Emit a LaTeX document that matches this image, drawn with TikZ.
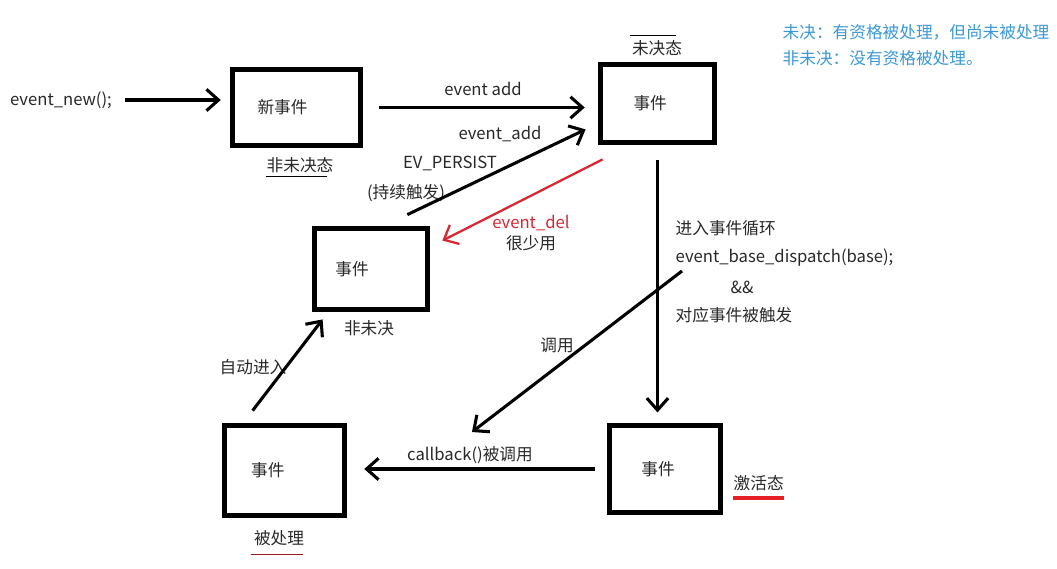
\documentclass[tikz,border=0pt]{standalone}
\usepackage{fontspec}
\setmainfont{Noto Sans CJK SC}
\usetikzlibrary{arrows.meta,positioning,calc}
\definecolor{NoteBlue}{RGB}{58,152,214}
\definecolor{DelRed}{RGB}{214,40,50}
\definecolor{MarkRed}{RGB}{230,30,40}
\definecolor{InkGray}{RGB}{40,40,40}

\begin{document}
\begin{tikzpicture}[x=.75pt,y=-.75pt,>={Straight Barb[length=9pt,width=16pt]},
  font=\fontsize{12.5}{15}\selectfont,text=InkGray,
  state/.style n args={2}{draw,line width=3.6pt,inner sep=0pt,minimum width=#1,minimum height=#2},
  text left/.style={execute at begin node={\hspace*{-#1}}},
  flow/.style={->,line width=2.3pt}]
  \useasboundingbox (0,0) rectangle (1057,568);
  \node (newcall) at (61,100) {event\_new();};
  \node[state={96pt}{57pt},text left=21pt] (newev) at (296.5,107.5) {新事件};
  \node (newtag) at (300,165) {非未决态};
  \node[state={85.5pt}{58.5pt},text left=11pt] (pend) at (657.5,103.5) {事件};
  \node (pendtag) at (657,48) {未决态};
  \node[state={84.75pt}{60.75pt},text left=28.5pt] (idle) at (371,269) {事件};
  \node (idletag) at (369,328) {非未决};
  \node[state={90pt}{67.5pt},text left=25pt] (done) at (284.5,470.5) {事件};
  \node (donetag) at (279,538) {被处理};
  \node[state={83.25pt}{65.25pt},text left=10.5pt] (act) at (665,469) {事件};
  \node[anchor=west] (acttag) at (729,483) {激活态};

  \node at (483,89) {event add};
  \node at (500,134) {event\_add};
  \node at (450,163) {EV\_PERSIST};
  \node at (406,193) {(持续触发)};
  \node[text=DelRed] at (531,223) {event\_del};
  \node at (531,243) {很少用};
  \node[anchor=west] at (671,228) {进入事件循环};
  \node[anchor=west] at (671,258) {event\_base\_dispatch(base);};
  \node at (742,287) {\&\&};
  \node[anchor=west] at (671,315) {对应事件被触发};
  \node at (557,345) {调用};
  \node at (253,367) {自动进入};
  \node at (470,455) {callback()被调用};
  \node[anchor=west,text=NoteBlue] at (778,32) {未决：有资格被处理，但尚未被处理};
  \node[anchor=west,text=NoteBlue] at (778,58) {非未决：没有资格被处理。};

  \coordinate (callfrom) at (682,271);
  \coordinate (callto) at (472,432);

  \draw[flow,shorten <=6pt,shorten >=7pt] (newcall.east) -- (newcall.east -| newev.west);
  \draw[flow,shorten <=12pt,shorten >=10pt] (newev.east) -- (newev.east -| pend.west);
  \draw[flow] ([shift={(-22.5,-11.5)}]idle.north east) -- ([shift={(-12.5,-15.5)}]pend.south west);
  \draw[->,line width=1.7pt,DelRed] ([shift={(4.5,14.5)}]pend.south west) -- ([shift={(12.5,14.5)}]idle.north east);
  \draw[flow,shorten >=8pt] ([yshift=-11pt]pend.south) -- (pend.south |- act.north);
  \draw[flow] (callfrom) -- (callto);
  \draw[flow,shorten <=9pt,shorten >=13pt] (act.west) -- (act.west -| done.east);
  \draw[flow] ([shift={(30.5,-12.5)}]done.north west) -- ([shift={(10.5,7.5)}]idle.south west);

  \draw[line width=.7pt] ([xshift=3pt,yshift=1pt]newtag.south west) -- ([xshift=-8pt,yshift=1pt]newtag.south east);
  \draw[line width=.7pt] ([xshift=2pt]pendtag.north west) -- ([xshift=-8pt]pendtag.north east);
  \draw[line width=.7pt,DelRed!70!black] ([xshift=1pt,yshift=-3pt]donetag.south west) -- ([xshift=-4pt,yshift=-3pt]donetag.south east);
  \draw[line width=3.5pt,MarkRed] ([xshift=3.3pt,yshift=-2pt]acttag.south west) -- ([xshift=-3.3pt,yshift=-2pt]acttag.south east);
\end{tikzpicture}
\end{document}
